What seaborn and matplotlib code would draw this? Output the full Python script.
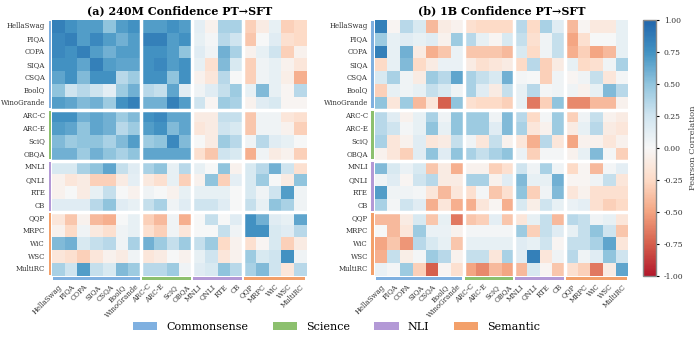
import numpy as np
import pandas as pd
import seaborn as sns
import matplotlib.pyplot as plt
from matplotlib.colors import LinearSegmentedColormap
from matplotlib.patches import Patch, Rectangle

tasks = ['HellaSwag', 'PIQA', 'COPA', 'SIQA', 'CSQA', 'BoolQ', 'WinoGrande',
         'ARC-C', 'ARC-E', 'SciQ', 'OBQA',
         'MNLI', 'QNLI', 'RTE', 'CB',
         'QQP', 'MRPC', 'WiC', 'WSC', 'MultiRC']
group_names = ['Commonsense', 'Science', 'NLI', 'Semantic']
group_sizes = [7, 4, 4, 5]
group_colors = ['#7fb0e0', '#8cc06e', '#b399d6', '#f3a06a']

titles = ['(a) 240M Confidence PT\u2192SFT', '(b) 1B Confidence PT\u2192SFT']

corr_240m = [
    [0.85, 0.75, 0.7, 0.7, 0.5, 0.7, 0.75, 0.7, 0.7, 0.75, 0.7, 0.12, -0.05, 0.4, 0.4, -0.3, -0.1, 0.1, -0.3, -0.25],
    [0.8, 0.85, 0.7, 0.8, 0.7, 0.6, 0.7, 0.85, 0.85, 0.7, 0.75, 0.1, 0.02, 0.35, 0.25, -0.35, 0.0, 0.15, -0.2, -0.25],
    [0.8, 0.75, 0.85, 0.7, 0.6, 0.7, 0.7, 0.75, 0.75, 0.7, 0.5, 0.15, 0.05, 0.6, 0.4, -0.05, 0.1, 0.25, -0.3, -0.05],
    [0.75, 0.75, 0.65, 0.85, 0.7, 0.65, 0.65, 0.75, 0.8, 0.7, 0.75, 0.1, -0.2, 0.55, 0.2, -0.3, 0.05, 0.1, -0.05, -0.15],
    [0.65, 0.75, 0.55, 0.75, 0.75, 0.35, 0.45, 0.75, 0.75, 0.5, 0.75, -0.05, -0.15, 0.35, 0.0, -0.3, 0.05, 0.1, -0.08, -0.45],
    [0.5, 0.25, 0.35, 0.25, 0.12, 0.45, 0.6, 0.35, 0.3, 0.65, 0.15, 0.05, 0.15, 0.3, 0.45, 0.1, 0.55, 0.1, -0.02, 0.35],
    [0.7, 0.65, 0.55, 0.6, 0.45, 0.75, 0.85, 0.6, 0.6, 0.85, 0.7, 0.25, -0.02, 0.45, 0.4, -0.05, 0.15, 0.2, -0.02, -0.02],
    [0.75, 0.75, 0.6, 0.65, 0.6, 0.45, 0.55, 0.75, 0.8, 0.65, 0.65, -0.1, -0.1, 0.3, 0.3, -0.35, 0.05, 0.05, -0.15, -0.2],
    [0.7, 0.65, 0.5, 0.65, 0.6, 0.35, 0.45, 0.7, 0.75, 0.55, 0.65, -0.15, -0.1, 0.25, 0.2, -0.35, 0.05, 0.05, -0.05, -0.3],
    [0.55, 0.45, 0.5, 0.5, 0.4, 0.55, 0.7, 0.45, 0.5, 0.8, 0.55, 0.0, -0.1, 0.45, 0.35, 0.05, 0.35, 0.15, 0.1, 0.0],
    [0.6, 0.6, 0.45, 0.6, 0.5, 0.4, 0.5, 0.65, 0.65, 0.65, 0.65, -0.2, -0.35, 0.25, 0.2, -0.45, 0.05, -0.1, -0.05, -0.3],
    [0.2, 0.2, 0.4, 0.5, 0.65, 0.3, 0.15, 0.4, 0.5, 0.1, 0.35, 0.1, 0.0, 0.5, -0.05, 0.2, 0.35, 0.6, 0.25, -0.2],
    [-0.05, -0.15, -0.1, -0.3, -0.3, -0.1, 0.12, -0.12, -0.2, 0.1, -0.3, -0.05, 0.5, -0.3, 0.12, 0.2, 0.45, 0.0, -0.1, 0.5],
    [-0.05, 0.0, -0.1, 0.1, 0.3, 0.0, -0.05, 0.05, 0.0, -0.05, 0.1, 0.1, 0.1, 0.1, 0.0, 0.2, 0.05, 0.25, 0.7, 0.05],
    [0.15, 0.15, 0.15, 0.35, 0.5, 0.15, 0.1, 0.3, 0.4, 0.05, 0.15, 0.25, 0.25, 0.15, 0.0, 0.3, 0.1, 0.5, 0.4, 0.05],
    [-0.15, -0.35, -0.05, -0.4, -0.45, 0.0, 0.1, -0.3, -0.4, 0.05, -0.45, 0.0, 0.3, 0.0, 0.15, 0.75, 0.6, 0.15, 0.1, 0.65],
    [-0.05, -0.25, 0.05, -0.12, -0.2, 0.05, 0.1, -0.2, -0.3, 0.05, -0.15, 0.0, 0.0, 0.3, 0.05, 0.75, 0.75, 0.2, 0.15, 0.35],
    [0.55, 0.6, 0.2, 0.3, 0.35, 0.05, 0.4, 0.6, 0.45, 0.3, 0.45, 0.3, 0.45, -0.25, -0.05, -0.2, -0.02, 0.2, -0.3, -0.1],
    [-0.15, -0.2, -0.3, -0.15, -0.05, -0.1, 0.05, -0.15, -0.1, 0.0, -0.05, 0.1, 0.25, -0.15, -0.05, 0.45, 0.2, 0.25, 0.75, 0.05],
    [0.4, 0.25, 0.7, 0.3, 0.2, 0.55, 0.45, 0.35, 0.35, 0.45, 0.05, 0.15, 0.2, 0.5, 0.35, 0.4, 0.55, 0.25, -0.15, 0.35],
]

corr_1b = [
    [0.85, -0.02, 0.35, 0.2, -0.4, -0.1, -0.05, -0.2, -0.25, -0.25, -0.25, 0.35, -0.25, 0.4, 0.15, -0.4, -0.02, -0.12, -0.12, 0.1],
    [0.45, 0.1, 0.15, 0.1, 0.15, -0.05, 0.45, 0.35, 0.1, -0.02, 0.2, 0.3, -0.2, 0.05, 0.3, -0.5, -0.2, 0.0, 0.0, 0.1],
    [0.85, 0.1, 0.6, -0.1, -0.45, -0.35, 0.08, -0.35, -0.35, -0.35, -0.4, 0.2, -0.25, 0.05, 0.3, -0.45, -0.3, -0.5, -0.4, 0.1],
    [-0.25, 0.1, 0.55, -0.25, -0.1, 0.08, 0.08, -0.1, -0.2, -0.15, -0.1, -0.25, 0.35, -0.3, -0.1, 0.1, -0.25, -0.2, 0.05, 0.4],
    [0.2, 0.4, 0.05, -0.1, 0.45, 0.35, 0.65, 0.4, 0.3, 0.2, 0.6, 0.02, 0.0, -0.3, 0.05, -0.03, 0.05, 0.3, -0.15, 0.03],
    [-0.3, 0.1, 0.05, 0.1, 0.3, 0.2, 0.05, 0.4, 0.15, -0.1, 0.3, 0.1, 0.35, 0.02, 0.05, 0.05, -0.05, 0.1, 0.55, 0.35],
    [0.5, -0.15, 0.45, -0.4, -0.15, -0.75, 0.5, -0.2, -0.25, -0.25, -0.3, 0.1, -0.65, -0.3, 0.5, -0.6, -0.6, -0.4, -0.4, -0.05],
    [0.35, 0.15, -0.05, 0.1, 0.4, 0.05, 0.5, 0.45, 0.45, 0.05, 0.55, 0.35, -0.25, 0.02, 0.45, -0.3, 0.05, 0.3, -0.05, -0.1],
    [0.35, 0.25, 0.02, 0.1, 0.5, 0.1, 0.5, 0.45, 0.45, 0.15, 0.55, 0.4, -0.15, -0.05, 0.45, -0.1, 0.1, 0.35, -0.1, -0.15],
    [0.4, -0.15, -0.05, 0.15, -0.15, -0.1, 0.3, 0.05, -0.15, 0.3, -0.05, -0.15, -0.45, 0.35, -0.15, -0.5, -0.05, -0.05, -0.15, -0.05],
    [-0.05, -0.15, -0.3, 0.15, 0.5, 0.15, 0.5, 0.4, 0.3, 0.4, 0.5, 0.08, -0.3, 0.02, 0.02, -0.05, 0.1, 0.55, 0.02, -0.3],
    [0.55, 0.2, 0.08, 0.2, -0.35, -0.1, -0.45, -0.05, -0.05, -0.3, -0.2, 0.25, 0.05, 0.4, 0.05, -0.25, -0.03, -0.4, 0.03, 0.12],
    [0.05, 0.15, -0.03, 0.25, 0.35, -0.1, -0.1, 0.4, 0.4, -0.05, 0.15, 0.55, 0.1, 0.1, 0.6, -0.03, -0.03, 0.05, 0.3, -0.15],
    [0.7, 0.05, 0.05, 0.03, -0.15, -0.4, -0.15, -0.2, 0.02, -0.35, -0.2, 0.5, -0.3, 0.05, 0.55, -0.15, -0.05, -0.2, -0.2, -0.2],
    [0.4, 0.03, 0.25, 0.15, -0.45, -0.15, -0.45, -0.45, -0.15, -0.03, -0.45, 0.2, -0.08, 0.25, 0.1, 0.08, 0.12, -0.2, -0.3, -0.25],
    [-0.4, -0.4, -0.1, 0.2, -0.35, 0.1, -0.65, -0.35, -0.3, 0.12, -0.35, -0.15, 0.1, 0.3, -0.4, 0.35, 0.3, 0.05, 0.1, -0.15],
    [0.0, -0.4, -0.15, 0.45, 0.08, 0.08, -0.05, 0.02, 0.02, 0.02, 0.02, 0.45, -0.3, 0.3, 0.15, 0.1, 0.3, 0.5, 0.25, -0.35],
    [-0.5, -0.35, -0.55, 0.35, 0.2, 0.1, -0.35, 0.1, 0.1, 0.1, 0.1, 0.15, 0.1, 0.25, -0.03, 0.3, 0.3, 0.4, 0.65, -0.15],
    [-0.45, 0.3, -0.08, 0.02, 0.45, 0.35, -0.05, 0.3, 0.3, -0.15, 0.4, 0.15, 0.85, -0.15, 0.05, 0.35, 0.05, 0.15, 0.5, 0.25],
    [0.08, 0.03, 0.45, -0.3, -0.75, -0.02, -0.2, -0.5, -0.6, -0.4, -0.5, -0.4, 0.2, -0.03, -0.35, -0.2, -0.3, -0.65, -0.1, 0.65],
]

plt.rcParams['font.family'] = 'DejaVu Serif'

# RdBu without its darkest ends
base = plt.get_cmap('RdBu')
cmap = LinearSegmentedColormap.from_list('rdbu_mid', base(np.linspace(0.1, 0.9, 256)))

fig = plt.figure(figsize=(6.98, 3.44), dpi=100)
ax1 = fig.add_axes([0.0745, 0.198, 0.365, 0.744])
ax2 = fig.add_axes([0.537, 0.198, 0.363, 0.744])
cax = fig.add_axes([0.921, 0.198, 0.019, 0.744])

bounds = np.cumsum(group_sizes)
starts = np.concatenate([[0], bounds[:-1]])

for ax, data, title in [(ax1, corr_240m, titles[0]), (ax2, corr_1b, titles[1])]:
    df = pd.DataFrame(data, index=tasks, columns=tasks)
    sns.heatmap(df, ax=ax, cmap=cmap, vmin=-1, vmax=1,
                cbar=(ax is ax2), cbar_ax=cax if ax is ax2 else None,
                xticklabels=True, yticklabels=True)
    for b in bounds[:-1]:
        ax.axhline(b, color='white', lw=2.5)
        ax.axvline(b, color='white', lw=2.5)
    # group strips on the left and bottom
    for s, n, c in zip(starts, group_sizes, group_colors):
        ax.add_patch(Rectangle((-0.27, s + 0.1), 0.22, n - 0.2, color=c,
                               clip_on=False, lw=0))
        ax.add_patch(Rectangle((s + 0.1, 20.06), n - 0.2, 0.26, color=c,
                               clip_on=False, lw=0))
    ax.set_title(title, fontsize=8, fontweight='bold', pad=4)
    ax.tick_params(axis='both', length=0, labelsize=5, labelcolor='#333333')
    ax.tick_params(axis='y', pad=5)
    ax.tick_params(axis='x', pad=5)
    plt.setp(ax.get_xticklabels(), rotation=45, ha='right', rotation_mode='anchor')
    plt.setp(ax.get_yticklabels(), rotation=0)
    ax.set_xlabel('')
    ax.set_ylabel('')

cbar = ax2.collections[0].colorbar
cbar.set_ticks(np.arange(-1, 1.01, 0.25))
cbar.ax.yaxis.set_major_formatter(plt.FormatStrFormatter('%.2f'))
cbar.ax.tick_params(labelsize=5.5, length=2, labelcolor='#333333')
cbar.set_label('Pearson Correlation', fontsize=6, color='#444444')
cbar.outline.set_edgecolor('#888888')
cbar.outline.set_linewidth(1)

handles = [Patch(facecolor=c, edgecolor='none', label=g) for g, c in zip(group_names, group_colors)]
fig.legend(handles=handles, loc='center', bbox_to_anchor=(0.482, 0.05), ncol=4,
           frameon=False, fontsize=8, handlelength=2.2, handleheight=0.8,
           columnspacing=2.2)

fig.savefig('out.png', dpi=100)
